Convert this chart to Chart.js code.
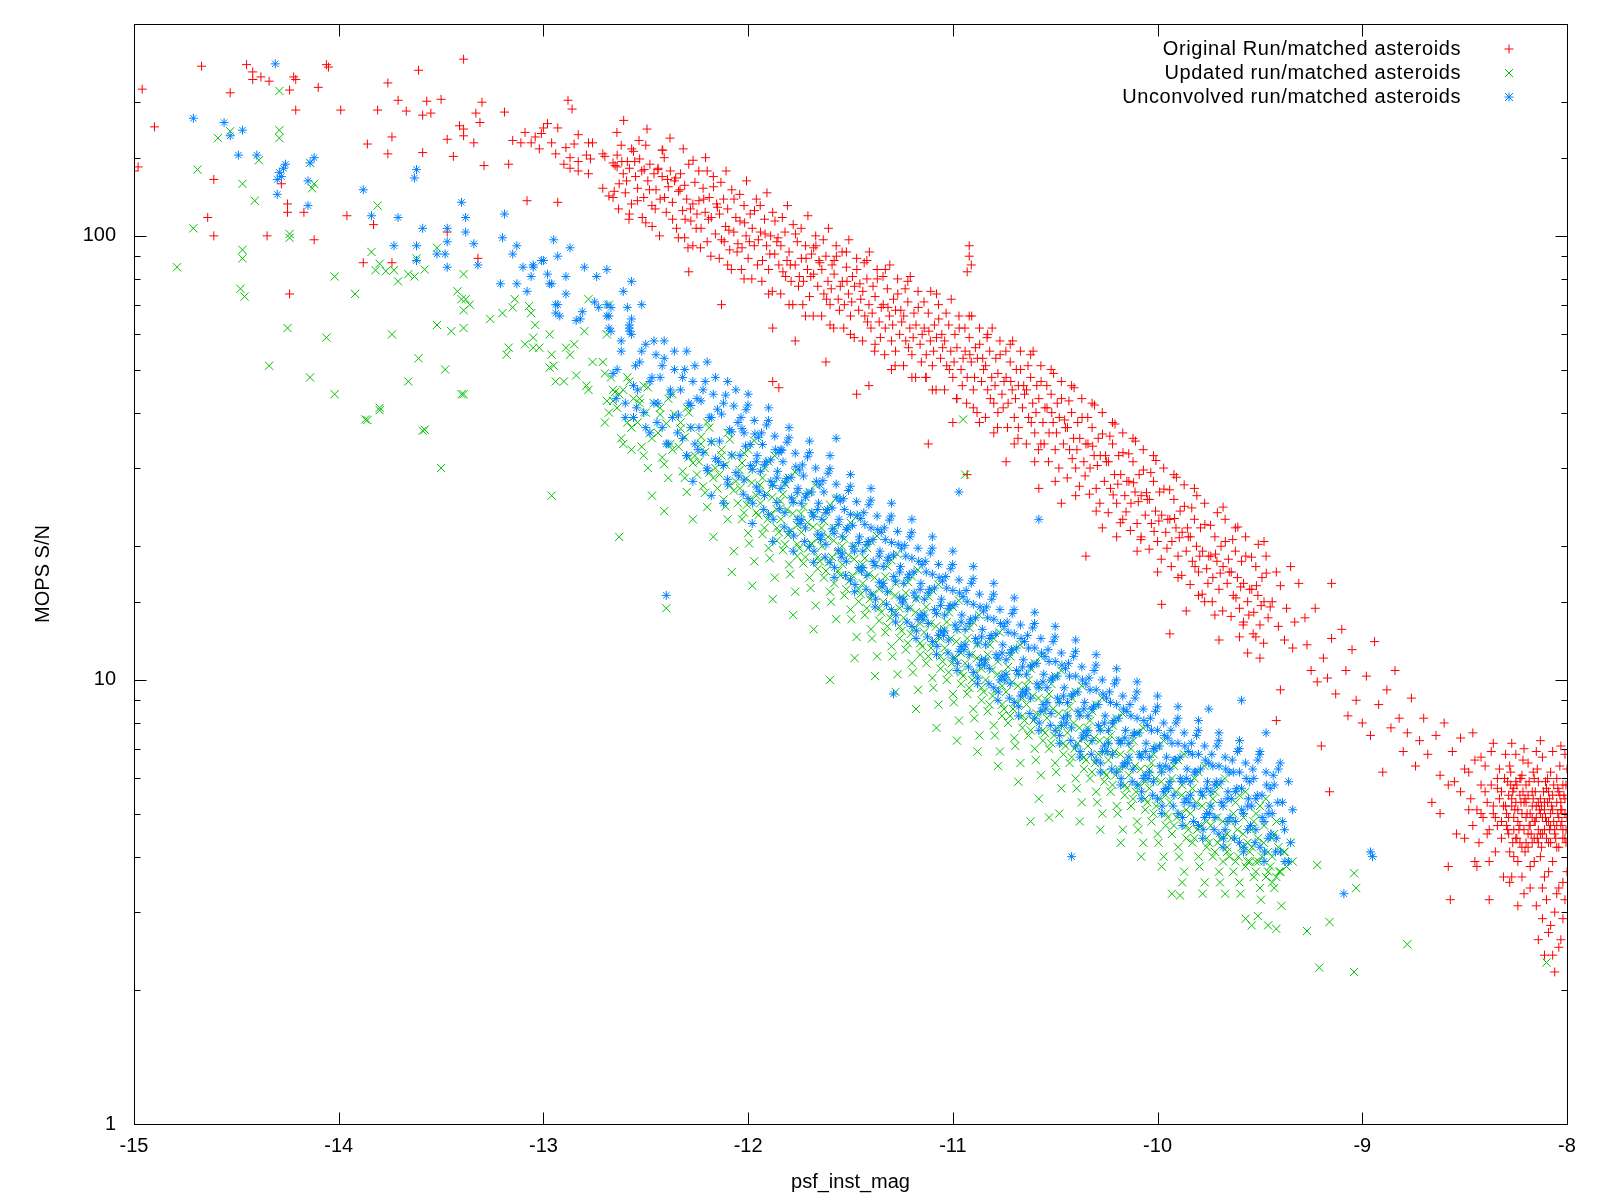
<!DOCTYPE html>
<html>
<head>
<meta charset="utf-8">
<title>MOPS S/N vs psf_inst_mag</title>
<script src="https://cdn.jsdelivr.net/npm/chart.js@4.4.1/dist/chart.umd.min.js"></script>
<style>
  html, body { margin: 0; padding: 0; background: #fff; }
  #plot { display: block; }
</style>
</head>
<body>
<canvas id="plot" width="1600" height="1200"></canvas>
<script>
// Series labels and colours (gnuplot default palette)
const seriesLabels = ["Original Run/matched asteroids", "Updated run/matched asteroids", "Unconvolved run/matched asteroids"];
const seriesColors = ["#ff0000", "#00c000", "#0080ff"];
const seriesStyles = ["cross", "crossRot", "star"];

// Axis tick values
const xTickValues = [-15, -14, -13, -12, -11, -10, -9, -8];
const yLabelValues = [1, 10, 100];

// [psf_inst_mag, MOPS S/N]
const originalRun = [
  [-15.0,140],[-14.98,143],[-14.96,214],[-14.9,176],[-14.67,241],[-14.45,243],[-14.42,234],[-14.42,225],[-14.38,228],[-14.34,223],
  [-14.22,228],[-14.21,225],[-14.24,213],[-14.53,210],[-14.61,134],[-14.64,110],[-14.61,100],[-14.28,131],[-14.25,118],[-14.25,113],
  [-14.17,113],[-14.35,100],[-14.12,98],[-14.24,74],[-14.21,192],[-14.1,216],[-14.06,243],[-14.05,240],[-13.99,192],[-13.96,111],
  [-13.83,106],[-13.88,87],[-13.74,87],[-13.86,161],[-13.81,192],[-13.76,221],[-13.76,153],[-13.74,167],[-13.71,202],[-13.67,191],
  [-13.61,236],[-13.59,187],[-13.55,189],[-13.57,201],[-13.5,203],[-13.59,154],[-13.47,165],[-13.44,151],[-13.47,102],[-13.39,250],
  [-13.41,177],[-13.39,174],[-13.39,168],[-13.34,162],[-13.33,189],[-13.31,180],[-13.3,200],[-13.29,144],[-13.32,89],[-13.19,190],
  [-13.17,145],[-13.15,164],[-13.11,162],[-13.09,171],[-13.08,120],[-13.06,162],[-13.04,167],[-13.02,157],[-13.01,170],[-13.0,175],
  [-12.98,179],[-12.96,162],[-12.94,153],[-12.93,175],[-12.93,119],[-12.89,158],[-12.88,202],[-12.86,193],[-12.87,150],[-12.9,145],
  [-12.87,142],[-12.85,161],[-12.83,169],[-12.83,147],[-12.83,140],[-12.79,152],[-12.78,162],[-12.76,162],[-12.77,149],[-12.78,138],
  [-12.71,153],[-12.7,151],[-12.71,128],[-12.68,123],[-12.66,122],[-12.66,146],[-12.65,144],[-12.64,143],
  [-12.64,152],[-12.63,131],[-12.62,160],[-12.61,138],[-12.6,125],[-12.59,147],[-12.58,142],[-12.57,118],[-12.56,155],[-12.55,136],[-12.58,112],
  [-12.54,128],[-12.53,149],[-12.52,140],[-12.51,122],[-12.5,160],[-12.49,133],[-12.48,145],[-12.47,117],[-12.46,138],[-12.45,127],[-12.5,107],
  [-12.44,142],[-12.43,121],[-12.42,136],[-12.41,150],[-12.4,113],[-12.39,129],[-12.38,140],[-12.37,119],[-12.36,133],[-12.35,104],[-12.42,156],
  [-12.34,126],[-12.33,138],[-12.32,114],[-12.31,130],[-12.3,121],[-12.29,145],[-12.28,108],[-12.27,118],[-12.26,132],[-12.25,112],[-12.29,83],[-12.27,95],[-12.31,99],
  [-12.24,120],[-12.23,104],[-12.22,128],[-12.21,113],[-12.2,97],[-12.19,122],[-12.18,110],[-12.17,136],[-12.16,101],[-12.15,116],[-12.13,70],[-12.2,140],
  [-12.14,112],[-12.13,98],[-12.12,121],[-12.11,105],[-12.1,115],[-12.09,93],[-12.08,127],[-12.07,102],[-12.06,110],[-12.05,96],[-12.1,86],
  [-12.04,108],[-12.03,94],[-12.02,117],[-12.01,100],[-12.0,89],[-11.99,112],[-11.98,104],[-11.97,95],[-11.96,121],[-11.95,98],[-12.02,80],
  [-11.94,102],[-11.93,88],[-11.92,109],[-11.91,95],[-11.9,84],[-11.89,100],[-11.88,113],[-11.87,91],[-11.86,97],[-11.85,86],[-11.9,74],[-11.88,62],[-11.88,47],[-11.85,45.5],
  [-11.84,95],[-11.83,83],[-11.82,102],[-11.81,88],[-11.8,92],[-11.79,79],[-11.78,106],[-11.77,86],[-11.76,97],[-11.75,81],[-11.8,70],[-11.77,58],
  [-11.74,89],[-11.73,79],[-11.72,95],[-11.71,84],[-11.7,73],[-11.69,91],[-11.68,82],[-11.67,100],[-11.66,77],[-11.65,87],[-11.72,66],[-11.68,94],
  [-11.64,84],[-11.63,74],[-11.62,90],[-11.61,79],[-11.6,70],[-11.59,86],[-11.58,82],[-11.57,95],[-11.56,72],[-11.55,77],[-11.6,63],[-11.62,52],[-11.58,88],
  [-11.54,79],[-11.53,70],[-11.52,85],[-11.51,74],[-11.5,66],[-11.49,81],[-11.48,77],[-11.47,89],[-11.46,68],[-11.45,72],[-11.47,44],[-11.5,60],[-11.52,92],
  [-11.44,75],[-11.43,66],[-11.42,80],[-11.41,70],[-11.4,62],[-11.39,77],[-11.38,73],[-11.37,84],[-11.36,64],[-11.35,69],[-11.41,46],[-11.42,88],[-11.38,57],
  [-11.34,70],[-11.33,62],[-11.32,76],[-11.31,66],[-11.3,58],[-11.29,72],[-11.28,68],[-11.27,80],[-11.26,60],[-11.25,64],[-11.3,50],[-11.33,84],[-11.28,55],
  [-11.24,66],[-11.23,58],[-11.22,71],[-11.21,62],[-11.2,54],[-11.19,67],[-11.18,63],[-11.17,75],[-11.16,57],[-11.15,60],[-11.12,34],[-11.2,48],[-11.22,79],
  [-11.14,62],[-11.13,54],[-11.12,67],[-11.11,58],[-11.1,51],[-11.09,63],[-11.08,59],[-11.07,70],[-11.06,53],[-11.05,56],[-11.1,45],[-11.08,74],[-11.13,48],
  [-11.04,58],[-11.03,51],[-11.02,63],[-11.01,55],[-11.0,48],[-10.99,60],[-10.98,56],[-10.97,66],[-10.96,50],[-10.95,53],[-11.0,38],[-10.93,29],
  [-10.92,95],[-10.92,90],[-10.91,86],[-10.93,83],[-10.98,43],
  [-10.94,55],[-10.93,48],[-10.92,59],[-10.91,52],[-10.9,45],[-10.89,56],[-10.88,53],[-10.87,62],[-10.86,47],[-10.85,50],[-10.9,41],[-10.87,38],[-10.92,66],
  [-10.84,51],[-10.83,45],[-10.82,55],[-10.81,48],[-10.8,42],[-10.79,53],[-10.78,49],[-10.77,58],[-10.76,44],[-10.75,47],[-10.8,36],[-10.83,60],[-10.78,40],
  [-10.74,48],[-10.73,42],[-10.72,52],[-10.71,45],[-10.7,39],[-10.69,50],[-10.68,46],[-10.67,55],[-10.66,41],[-10.65,44],[-10.7,34],[-10.72,57],[-10.68,37],[-10.74,31],
  [-10.64,45],[-10.63,39],[-10.62,48],[-10.61,42],[-10.6,36],[-10.59,46],[-10.58,43],[-10.57,51],[-10.56,38],[-10.55,41],[-10.6,31],[-10.62,54],[-10.58,27],[-10.57,34],
  [-10.54,41],[-10.53,36],[-10.52,44],[-10.51,38],[-10.5,33],[-10.49,42],[-10.48,39],[-10.47,47],[-10.46,34],[-10.45,37],[-10.5,28],[-10.52,50],[-10.47,25],
  [-10.44,37],[-10.43,33],[-10.42,40],[-10.41,35],[-10.4,30],[-10.39,38],[-10.38,35],[-10.37,43],[-10.36,31],[-10.35,34],[-10.35,19],[-10.4,26],[-10.42,46],
  [-10.34,34],[-10.33,30],[-10.32,37],[-10.31,32],[-10.3,27],[-10.29,35],[-10.28,32],[-10.27,40],[-10.26,28],[-10.25,31],[-10.3,24],[-10.32,42],[-10.27,22],
  [-10.24,31],[-10.23,27],[-10.22,34],[-10.21,29],[-10.2,25],[-10.19,32],[-10.18,29],[-10.17,36],[-10.16,26],[-10.15,28],[-10.2,21],[-10.22,38],[-10.17,23],
  [-10.14,28],[-10.13,25],[-10.12,31],[-10.11,26.5],[-10.1,22.5],[-10.09,29],[-10.08,26],[-10.07,33],[-10.06,23.5],[-10.05,25.5],[-10.1,19.5],[-10.12,35],[-10.08,21],
  [-10.04,25.5],[-10.03,22.5],[-10.02,28],[-10.01,24],[-10.0,20.5],[-9.99,26.5],[-9.98,23.5],[-9.97,30],[-9.96,21.5],[-9.95,23],[-10.0,17.5],[-9.94,12.7],[-9.98,14.8],[-10.02,32],
  [-9.94,23],[-9.93,20.5],[-9.92,25.5],[-9.91,22],[-9.9,19],[-9.89,24],[-9.88,21.5],[-9.87,27.5],[-9.86,19.5],[-9.85,21],[-9.86,14.3],[-9.9,17],[-9.92,29],
  [-9.84,21],[-9.83,18.5],[-9.82,23],[-9.81,20],[-9.8,17.5],[-9.79,22],[-9.78,19.5],[-9.77,25],[-9.76,17.8],[-9.75,19],[-9.8,15.5],[-9.82,27],[-9.77,15],
  [-9.74,19],[-9.73,17],[-9.72,21],[-9.71,18.5],[-9.7,16],[-9.69,20],[-9.68,18],[-9.67,23],[-9.66,16.5],[-9.65,17.5],[-9.7,12.3],[-9.72,14],[-9.68,24.5],
  [-9.64,17.5],[-9.63,15.5],[-9.62,19.5],[-9.61,17],[-9.6,14.5],[-9.59,18.5],[-9.58,16.5],[-9.57,21],[-9.56,15],[-9.55,16],[-9.6,12.5],[-9.62,22],[-9.58,13.5],[-9.56,11.5],
  [-9.54,16],[-9.53,14.2],[-9.52,18],[-9.51,15.5],[-9.5,13.3],[-9.49,17],[-9.48,15],[-9.47,19],[-9.46,13.8],[-9.45,14.6],[-9.5,11.2],[-9.48,20.5],[-9.52,12.5],
  [-9.44,15],[-9.42,17.5],[-9.41,13.2],[-9.4,16.3],[-9.38,12.3],[-9.37,14.5],[-9.35,18],[-9.34,11.8],[-9.33,13.5],[-9.31,16.5],[-9.4,9.5],[-9.42,8.1],
  [-9.28,13.8],[-9.27,12],[-9.25,10.5],[-9.23,14.5],[-9.22,9.9],[-9.2,7.1],[-9.19,11.2],[-9.17,10.1],[-9.16,5.6],[-9.15,12.4],[-9.15,16.5],
  [-9.13,9.3],[-9.1,13],[-9.08,10.5],[-9.07,8.3],[-9.05,11.7],[-9.03,9],[-9.0,8],[-8.98,10.2],[-8.96,7.5],[-8.94,12.2],[-8.92,8.8],
  [-8.9,6.2],[-8.88,9.5],[-8.86,7.8],[-8.84,10.5],[-8.82,8.2],[-8.8,6.9],[-8.78,7.6],[-8.76,9.1],[-8.74,6.4],[-8.72,7.3],[-8.7,8.2],
  [-8.68,6.8],[-8.66,5.3],[-8.64,7.5],[-8.62,6.1],[-8.6,8.0],[-8.58,5.8],[-8.56,6.9],[-8.54,4.5],[-8.52,7.4],[-8.5,6.3],[-8.48,5.1],
  [-8.46,7.6],[-8.44,3.8],[-8.42,6.7],[-8.4,5.6],[-8.38,3.2],[-8.36,7.2],[-8.34,6.0],[-8.32,4.8],[-8.58,3.8],[-8.57,3.2],
  [-8.33,5.4],[-8.35,4.9],[-8.31,3.6],[-8.37,5.8],
  [-8.3,5.2],[-8.29,4.6],[-8.29,5.9],[-8.28,4.1],[-8.28,6.4],[-8.27,5.4],[-8.27,3.6],[-8.26,4.9],[-8.26,5.7],[-8.25,4.4],[-8.25,6.8],
  [-8.24,5.1],[-8.24,3.9],[-8.23,5.5],[-8.23,4.7],[-8.22,6.1],[-8.22,4.2],[-8.21,5.3],[-8.21,3.3],[-8.2,4.9],[-8.2,5.8],[-8.19,4.5],
  [-8.19,6.5],[-8.18,5.0],[-8.18,3.8],[-8.17,5.6],[-8.17,4.3],[-8.16,6.0],[-8.16,4.8],[-8.15,5.2],[-8.15,3.1],[-8.14,4.6],[-8.14,5.9],
  [-8.13,4.0],[-8.13,5.4],[-8.12,6.7],[-8.12,4.9],[-8.11,3.6],[-8.11,5.1],[-8.1,4.4],[-8.1,5.7],[-8.09,2.7],[-8.09,4.8],[-8.08,6.2],
  [-8.08,5.0],[-8.07,3.9],[-8.07,5.5],[-8.06,4.5],[-8.06,2.2],[-8.05,5.3],[-8.05,6.0],[-8.04,4.2],[-8.04,3.4],[-8.03,5.1],[-8.03,4.7],
  [-8.02,5.8],[-8.02,2.9],[-8.01,4.4],[-8.01,5.4],[-8.0,4.9],[-8.0,3.7],[-8.0,6.3],[-8.26,4.0],[-8.23,6.0],[-8.2,4.3],[-8.17,4.9],
  [-8.14,5.3],[-8.11,4.6],[-8.08,4.3],[-8.05,4.7],[-8.02,4.4],[-8.15,6.9],[-8.1,3.2],[-8.06,3.0],[-8.03,2.6],[-8.12,2.9],[-8.18,3.4],
  [-8.07,2.4],[-8.01,3.2],[-8.25,5.9],[-8.19,5.5],[-8.13,4.5],[-8.09,5.6],[-8.04,5.6],[-8.01,6.8],
  [-12.654,126],[-12.641,171],[-12.633,115],[-12.617,147],[-12.608,182],[-12.594,133],[-12.582,109],[-12.569,157],
  [-12.554,147],[-12.541,120],[-12.533,164],[-12.517,110],[-12.508,141],[-12.494,174],[-12.482,127],[-12.469,105],
  [-12.454,115],[-12.441,141],[-12.433,100],[-12.417,156],[-12.408,122],[-12.394,134],[-12.382,166],[-12.369,109],
  [-12.354,135],[-12.341,99],[-12.333,127],[-12.317,157],[-12.308,109],[-12.294,94],[-12.282,115],[-12.269,148],
  [-12.254,104],[-12.241,140],[-12.233,94],[-12.217,121],[-12.208,150],[-12.194,109],[-12.182,90],[-12.169,129],
  [-12.154,118],[-12.141,89],[-12.133,132],[-12.117,97],[-12.108,140],[-12.094,103],[-12.082,84],[-12.069,121],
  [-12.054,92],[-12.041,124],[-12.033,84],[-12.017,107],[-12.008,133],[-11.994,97],[-11.982,80],[-11.969,114],
  [-11.954,86],[-11.941,117],[-11.933,79],[-11.917,101],[-11.908,125],[-11.894,91],[-11.882,75],[-11.869,108],
  [-11.854,99],[-11.841,74],[-11.833,110],[-11.817,81],[-11.808,117],[-11.794,86],[-11.782,70],[-11.769,101],
  [-11.754,77],[-11.741,104],[-11.733,70],[-11.717,89],[-11.708,111],[-11.694,81],[-11.682,66],[-11.669,95],
  [-11.654,88],[-11.641,66],[-11.633,98],[-11.617,72],[-11.608,104],[-11.594,76],[-11.582,62],[-11.569,90],
  [-11.554,68],[-11.541,92],[-11.533,62],[-11.517,79],[-11.508,98],[-11.494,71],[-11.482,59],[-11.469,84],
  [-11.454,78],[-11.441,58],[-11.433,87],[-11.417,64],[-11.408,92],[-11.394,67],[-11.382,55],[-11.369,80],
  [-11.354,59],[-11.341,81],[-11.333,54],[-11.317,69],[-11.308,86],[-11.294,63],[-11.282,51],[-11.269,74],
  [-11.254,68],[-11.241,51],[-11.233,76],[-11.217,56],[-11.208,81],[-11.194,59],[-11.182,48],[-11.169,69],
  [-11.154,52],[-11.141,71],[-11.133,48],[-11.117,61],[-11.108,75],[-11.094,55],[-11.082,45],[-11.069,65],
  [-11.054,60],[-11.041,45],[-11.033,67],[-11.017,50],[-11.008,72],[-10.994,52],[-10.982,43],[-10.969,62],
  [-10.954,46],[-10.941,62],[-10.933,42],[-10.917,54],[-10.908,66],[-10.894,48],[-10.882,40],[-10.869,57],
  [-10.854,53],[-10.841,39],[-10.833,59],[-10.817,43],[-10.808,62],[-10.794,46],[-10.782,37],[-10.769,54],
  [-10.754,41],[-10.741,55],[-10.733,37],[-10.717,47],[-10.708,58],[-10.694,43],[-10.682,35],[-10.669,50],
  [-10.654,46],[-10.641,34],[-10.633,51],[-10.617,38],[-10.608,55],[-10.594,40],[-10.582,33],[-10.569,47],
  [-10.554,34],[-10.541,46],[-10.533,31],[-10.517,40],[-10.508,49],[-10.494,36],[-10.482,30],[-10.469,43],
  [-10.454,38.5],[-10.441,28.5],[-10.433,42.5],[-10.417,31.5],[-10.408,45.5],[-10.394,33],[-10.382,27.3],[-10.369,39],
  [-10.354,28.8],[-10.341,39],[-10.333,26.2],[-10.317,33.6],[-10.308,41.6],[-10.294,30.4],[-10.282,25],[-10.269,35.8],
  [-10.254,32],[-10.241,23.8],[-10.233,35.4],[-10.217,26.1],[-10.208,37.7],[-10.194,27.6],[-10.182,22.6],[-10.169,32.5],
  [-10.154,23.9],[-10.141,32.3],[-10.133,21.7],[-10.117,27.8],[-10.108,34.5],[-10.094,25.2],[-10.082,20.7],[-10.069,29.7],
  [-10.054,26.4],[-10.041,19.7],[-10.033,29.3],[-10.017,21.6],[-10.008,31.2],[-9.994,22.8],[-9.982,18.7],[-9.969,26.9],
  [-9.954,19.8],[-9.941,26.8],[-9.933,18],[-9.917,23.1],[-9.908,28.6],[-9.894,20.9],[-9.882,17.2],[-9.869,24.6],
  [-9.854,22],[-9.841,16.4],[-9.833,24.4],[-9.817,18],[-9.808,26],[-9.794,19],[-9.782,15.6],[-9.769,22.4],
  [-9.754,16.5],[-9.741,22.3],[-9.733,15],[-9.717,19.2],[-9.708,23.8],[-9.694,17.4],[-9.682,14.3],[-9.669,20.5],
  [-9.654,18.7],[-9.641,13.9],[-9.633,20.7],[-9.617,15.3],[-9.608,22.1],[-9.594,16.2],[-9.582,13.3],[-9.569,19],
  [-9.554,14],[-9.541,18.9],[-9.533,12.7],[-9.517,16.3],[-9.508,20.2],[-9.494,14.7],[-9.482,12.1],[-9.469,17.4],
  [-8.48,6.2],[-8.47,5.4],[-8.46,4.7],[-8.45,6.6],[-8.44,5.1],[-8.43,4.3],[-8.42,5.8],[-8.41,4.9],[-8.4,6.4],[-8.39,5.3],
  [-8.38,4.6],[-8.37,6.9],[-8.36,5.0],[-8.35,4.1],[-8.34,5.7],[-8.33,6.3],[-8.32,4.4],[-8.31,5.2],[-8.305,6.0],[-8.295,4.7],
  [-8.285,5.5],[-8.275,6.2],[-8.265,4.3],[-8.255,5.1],[-8.245,5.8],[-8.235,4.6],[-8.225,5.3],[-8.215,6.6],[-8.205,4.1],[-8.195,5.0],
  [-8.185,5.9],[-8.175,4.5],[-8.165,5.4],[-8.155,4.8],[-8.145,6.3],[-8.135,5.1],[-8.125,4.2],[-8.115,5.6],[-8.105,4.9],[-8.095,6.0],
  [-8.085,4.6],[-8.075,5.2],[-8.065,5.8],[-8.055,4.4],[-8.045,5.0],[-8.035,6.4],[-8.025,4.8],[-8.015,5.5],[-8.005,4.3],[-8.285,4.9],
  [-8.265,5.6],[-8.245,4.4],[-8.225,6.0],[-8.205,5.4],[-8.185,4.7],[-8.165,6.2],[-8.145,4.4],[-8.125,5.2],[-8.105,5.9],[-8.085,5.4],
  [-8.065,4.8],[-8.045,5.7],[-8.025,5.1],[-8.005,5.8],[-8.28,3.5],[-8.22,3.6],[-8.16,3.9],[-8.12,3.4],[-8.09,3.7],[-8.05,3.3],
  [-8.02,3.5],[-8.14,2.6],[-8.08,2.8],[-8.04,2.5],[-8.11,2.4],[-8.24,3.1],[-8.3,6.8],[-8.27,7.2],[-8.21,7.0],[-8.13,7.3],
  [-8.07,6.9],[-8.03,7.1],[-8.52,5.6],[-8.5,4.4],[-8.55,5.9],[-8.62,5.0],[-8.45,3.9],[-8.38,3.9],
  [-8.295,5.0],[-8.285,4.5],[-8.27,5.2],[-8.26,4.6],[-8.25,5.3],[-8.24,4.8],[-8.23,4.3],[-8.22,5.0],[-8.21,4.6],[-8.2,5.3],
  [-8.19,4.2],[-8.18,4.7],[-8.17,5.2],[-8.16,4.4],[-8.15,4.9],[-8.14,4.3],[-8.13,5.0],[-8.12,4.5],[-8.11,5.3],[-8.1,4.8],
  [-8.09,4.3],[-8.08,4.7],[-8.07,5.1],[-8.06,4.6],[-8.05,4.2],[-8.04,4.9],[-8.03,5.3],[-8.02,4.6],[-8.01,5.0],[-8.005,4.6],
  [-8.32,5.6],[-8.34,4.7],[-8.36,5.2],[-8.39,4.5],[-8.42,5.0],[-8.275,5.8],[-8.215,5.6],[-8.155,5.6],[-8.095,5.3],[-8.035,5.5]
];

const updatedRun = [
  [-14.29,212],[-14.29,173],[-14.29,166],[-14.53,172],[-14.59,166],[-14.39,148],[-14.69,141],[-14.47,131],[-14.41,120],[-14.71,104],
  [-14.79,85],[-14.47,93],[-14.47,89],[-14.48,76],[-14.46,73],[-14.24,101],[-14.24,99],[-14.25,62],[-14.34,51],[-14.14,146],
  [-14.12,131],[-14.13,128],[-14.14,48],[-14.06,59],[-14.02,44],[-14.02,81],[-13.92,74],[-13.81,117],[-13.84,92],[-13.8,86.5],
  [-13.82,83.7],[-13.77,83.3],[-13.73,83.7],[-13.71,79],[-13.74,60],[-13.86,38.5],[-13.8,40.5],[-13.66,47],[-13.61,53],[-13.58,36.6],
  [-13.62,89],[-13.66,82],[-13.63,81],[-13.58,84],[-13.52,94],[-13.52,63],[-13.45,61],[-13.48,50],[-13.39,44],[-13.42,75],
  [-13.4,72],[-13.38,72],[-13.39,68],[-13.36,70],[-13.39,82],[-13.39,62],[-13.26,65],[-13.2,67],[-13.14,72],[-13.15,69],
  [-13.07,69.5],[-13.06,67],[-13.04,63],[-12.97,60],[-13.05,59],[-13.05,56],[-13.17,56],[-13.18,54],[-13.09,57],[-13.02,56],
  [-12.96,54],[-12.97,50.5],[-12.95,51],[-12.94,47],[-12.9,47],[-12.89,56],[-12.85,57],[-12.87,54],[-12.84,48.5],[-12.8,61],
  [-12.78,72],[-12.79,46],[-12.78,45],[-12.76,52],[-12.71,52],[-12.69,60],[-12.68,70],[-12.7,49],[-12.67,48],[-12.66,45],
  [-12.65,44.5],[-12.68,40],[-12.69,42.5],[-12.66,42.5],[-12.7,38],[-12.96,26],[-13.5,30],[-13.59,36.4],[-13.4,44],[-13.87,38.6],[-13.8,41],
  [-12.64,41],[-12.62,35],[-12.61,45],[-12.59,38],[-12.57,33],[-12.56,43],[-12.63,21],[-12.58,47],
  [-12.54,38],[-12.53,43],[-12.52,33.5],[-12.5,40],[-12.49,30],[-12.48,36],[-12.46,42],[-12.47,26],[-12.51,46],
  [-12.44,36],[-12.43,41],[-12.42,31.7],[-12.4,37.8],[-12.39,28.5],[-12.38,34],[-12.36,39.7],[-12.4,14.5],[-12.41,24],[-12.37,44],
  [-12.34,33.5],[-12.33,38],[-12.32,29.5],[-12.31,35.2],[-12.3,26.5],[-12.29,31.7],[-12.28,37],[-12.27,23],[-12.26,32],[-12.25,29],[-12.3,41],
  [-12.24,31],[-12.23,35.3],[-12.22,27.3],[-12.21,32.6],[-12.2,24.5],[-12.19,29.3],[-12.18,34.3],[-12.17,21],[-12.16,30],[-12.15,27],[-12.2,38],
  [-12.14,29],[-12.13,33],[-12.12,25.5],[-12.11,30.5],[-12.1,23],[-12.09,27.4],[-12.08,32],[-12.07,19.5],[-12.06,28],[-12.05,25],[-12.1,36],[-12.08,17.5],
  [-12.04,27],[-12.03,30.8],[-12.02,23.8],[-12.01,28.4],[-12.0,21.4],[-11.99,25.5],[-11.98,29.8],[-11.97,18.5],[-11.96,26],[-11.95,23.5],[-12.0,33],[-11.98,16.3],
  [-11.94,25],[-11.93,28.5],[-11.92,22],[-11.91,26.3],[-11.9,19.8],[-11.89,23.6],[-11.88,27.6],[-11.87,17],[-11.86,24.2],[-11.85,21.5],[-11.9,31],[-11.88,15.2],[-11.86,20.6],
  [-11.84,23],[-11.83,26.2],[-11.82,20.2],[-11.81,24.2],[-11.8,18.2],[-11.79,21.7],[-11.78,25.4],[-11.77,15.8],[-11.76,22.3],[-11.75,19.8],[-11.8,28.5],[-11.78,14],[-11.76,19],
  [-11.74,21.5],[-11.73,24.5],[-11.72,18.9],[-11.71,22.6],[-11.7,17],[-11.69,20.3],[-11.68,23.7],[-11.67,14.7],[-11.66,20.8],[-11.65,18.5],[-11.7,26.5],[-11.68,13],[-11.66,17.8],
  [-11.64,20],[-11.63,22.8],[-11.62,17.6],[-11.61,21],[-11.6,15.8],[-11.59,18.9],[-11.58,22],[-11.57,13.7],[-11.56,19.4],[-11.55,17.2],[-11.6,24.8],[-11.6,10],[-11.58,16.5],
  [-11.54,18.2],[-11.53,20.8],[-11.52,16],[-11.51,19.1],[-11.5,14.4],[-11.49,17.2],[-11.48,20],[-11.47,12.5],[-11.46,17.6],[-11.45,15.6],[-11.5,22.6],[-11.48,11.2],[-11.46,15],
  [-11.44,16.5],[-11.43,18.8],[-11.42,14.5],[-11.41,17.3],[-11.4,13],[-11.39,15.6],[-11.38,18.2],[-11.37,11.3],[-11.36,16],[-11.35,14.2],[-11.4,20.5],[-11.38,10.2],[-11.36,13.6],
  [-11.34,15],[-11.33,17.1],[-11.32,13.2],[-11.31,15.8],[-11.3,11.9],[-11.29,14.2],[-11.28,16.5],[-11.27,10.3],[-11.26,14.5],[-11.25,12.9],[-11.3,18.6],[-11.28,9.4],[-11.26,12.4],
  [-11.24,13.8],[-11.23,15.7],[-11.22,12.1],[-11.21,14.5],[-11.2,10.9],[-11.19,13.1],[-11.18,15.2],[-11.17,9.5],[-11.16,13.4],[-11.15,11.9],[-11.2,17.1],[-11.18,8.6],[-11.16,11.4],
  [-11.14,12.8],[-11.13,14.6],[-11.12,11.3],[-11.11,13.4],[-11.1,10.1],[-11.09,12.2],[-11.08,14.1],[-11.07,8.8],[-11.06,12.4],[-11.05,11],[-11.1,15.9],[-11.08,7.8],[-11.06,10.6],
  [-11.04,11.8],[-11.03,13.5],[-11.02,10.4],[-11.01,12.4],[-11.0,9.3],[-10.99,11.2],[-10.98,13],[-10.97,8.1],[-10.96,11.5],[-10.95,10.2],[-11.0,14.6],[-10.98,7.3],[-10.96,9.8],
  [-10.94,29],[-10.95,38.6],
  [-10.94,10.9],[-10.93,12.4],[-10.92,9.6],[-10.91,11.4],[-10.9,8.6],[-10.89,10.4],[-10.88,12],[-10.87,7.5],[-10.86,10.6],[-10.85,9.4],[-10.9,13.5],[-10.88,6.9],[-10.86,9],
  [-10.84,10],[-10.83,11.4],[-10.82,8.8],[-10.81,10.5],[-10.8,7.9],[-10.79,9.5],[-10.78,11],[-10.77,6.9],[-10.76,9.7],[-10.75,8.6],[-10.8,12.4],[-10.78,6.4],[-10.76,8.3],
  [-10.74,9.4],[-10.73,10.7],[-10.72,8.3],[-10.71,9.9],[-10.7,7.4],[-10.69,8.9],[-10.68,10.4],[-10.67,6.5],[-10.66,9.1],[-10.65,8.1],[-10.7,11.7],[-10.68,5.9],[-10.66,7.8],
  [-10.64,8.8],[-10.63,10],[-10.62,7.7],[-10.61,9.2],[-10.6,7],[-10.59,8.4],[-10.58,9.7],[-10.57,6.1],[-10.56,8.5],[-10.55,7.6],[-10.6,10.9],[-10.58,5.4],[-10.56,7.3],[-10.62,4.8],
  [-10.54,8.2],[-10.53,9.3],[-10.52,7.2],[-10.51,8.6],[-10.5,6.5],[-10.49,7.8],[-10.48,9],[-10.47,5.7],[-10.46,7.9],[-10.45,7.1],[-10.5,10.2],[-10.48,5],[-10.46,6.8],[-10.53,4.9],
  [-10.44,7.6],[-10.43,8.7],[-10.42,6.7],[-10.41,8],[-10.4,6],[-10.39,7.2],[-10.38,8.4],[-10.37,5.3],[-10.36,7.4],[-10.35,6.6],[-10.4,9.4],[-10.38,4.8],[-10.36,6.3],
  [-10.34,7.1],[-10.33,8.1],[-10.32,6.2],[-10.31,7.4],[-10.3,5.6],[-10.29,6.8],[-10.28,7.8],[-10.27,5],[-10.26,6.9],[-10.25,6.1],[-10.3,8.8],[-10.28,4.6],[-10.26,5.9],
  [-10.24,6.6],[-10.23,7.5],[-10.22,5.8],[-10.21,6.9],[-10.2,5.2],[-10.19,6.3],[-10.18,7.3],[-10.17,4.6],[-10.16,6.4],[-10.15,5.7],[-10.2,8.2],[-10.18,4.3],[-10.16,5.5],
  [-10.14,6.1],[-10.13,7],[-10.12,5.4],[-10.11,6.4],[-10.1,4.8],[-10.09,5.8],[-10.08,6.8],[-10.07,4.3],[-10.06,5.9],[-10.05,5.3],[-10.1,7.6],[-10.08,4],[-10.06,5.1],
  [-10.04,5.7],[-10.03,6.5],[-10.02,5],[-10.01,6],[-10.0,4.5],[-9.99,5.4],[-9.98,6.3],[-9.97,4],[-9.96,5.5],[-9.95,4.9],[-10.0,7.1],[-9.98,3.8],[-9.96,4.7],
  [-9.94,5.3],[-9.93,6],[-9.92,4.7],[-9.91,5.6],[-9.9,4.2],[-9.89,5],[-9.88,5.8],[-9.87,3.7],[-9.86,5.1],[-9.85,4.6],[-9.9,6.6],[-9.88,3.5],[-9.86,4.4],[-9.93,3.3],
  [-9.84,5],[-9.83,5.7],[-9.82,4.4],[-9.81,5.3],[-9.8,4],[-9.79,4.7],[-9.78,5.5],[-9.77,3.5],[-9.76,4.8],[-9.75,4.3],[-9.8,6.2],[-9.78,3.3],[-9.76,4.2],
  [-9.74,4.7],[-9.73,5.4],[-9.72,4.1],[-9.71,4.9],[-9.7,3.7],[-9.69,4.4],[-9.68,5.2],[-9.67,3.3],[-9.66,4.5],[-9.65,4],[-9.7,5.8],[-9.68,3.9],[-9.66,4.2],
  [-9.64,4.4],[-9.63,5],[-9.62,3.9],[-9.61,4.6],[-9.6,3.5],[-9.59,4.2],[-9.58,4.9],[-9.57,3.8],[-9.56,4.3],[-9.55,3.9],[-9.6,5.5],[-9.57,2.9],[-9.55,4.1],
  [-9.54,4.2],[-9.53,4.8],[-9.52,3.7],[-9.51,4.4],[-9.5,3.4],[-9.49,4],[-9.48,4.7],[-9.47,3.6],[-9.46,4.1],[-9.45,3.8],[-9.5,5.2],[-9.54,2.8],[-9.52,3.9],
  [-9.44,4],[-9.43,4.5],[-9.42,3.6],[-9.41,4.2],[-9.4,3.7],[-9.38,4.1],[-9.37,3.8],[-9.35,4.3],[-9.34,3.9],[-9.46,2.8],[-9.44,3.5],
  [-9.51,2.94],[-9.42,2.75],[-9.89,3.27],[-9.27,2.72],[-9.22,3.83],[-9.21,2.25],[-9.16,2.85],[-9.04,3.67],[-9.03,3.4],[-9.04,2.2],[-8.78,2.54],[-8.1,2.31],
  [-12.63,44],[-12.61,34],[-12.59,48],[-12.57,37],[-12.53,42],[-12.51,32],[-12.49,45.6],[-12.47,35],
  [-12.43,39.6],[-12.41,30.6],[-12.39,43],[-12.37,33],[-12.33,36.8],[-12.31,28.5],[-12.29,40],[-12.27,30.8],
  [-12.23,34],[-12.21,26.4],[-12.19,37],[-12.17,28.5],[-12.13,32],[-12.11,24.6],[-12.09,34.8],[-12.07,26.7],
  [-12.042,29.7],[-12.03,23],[-12.019,32.4],[-12.006,24.8],[-11.995,20.3],[-11.982,27.8],[-11.971,34.6],[-11.96,23.8],
  [-11.942,27.5],[-11.93,21.3],[-11.919,30],[-11.906,23],[-11.895,18.8],[-11.882,25.8],[-11.871,32],[-11.86,22],
  [-11.842,25.3],[-11.83,19.6],[-11.819,27.6],[-11.806,21.2],[-11.795,17.3],[-11.782,23.7],[-11.771,29.4],[-11.76,20.2],
  [-11.742,23.7],[-11.73,18.3],[-11.719,25.8],[-11.706,19.8],[-11.695,16.1],[-11.682,22.1],[-11.671,27.5],[-11.66,18.9],
  [-11.642,22],[-11.63,17],[-11.619,24],[-11.606,18.4],[-11.595,15],[-11.582,20.6],[-11.571,25.6],[-11.56,17.6],
  [-11.542,20],[-11.53,15.5],[-11.519,21.8],[-11.506,16.7],[-11.495,13.7],[-11.482,18.7],[-11.471,23.3],[-11.46,16],
  [-11.442,18.2],[-11.43,14],[-11.419,19.8],[-11.406,15.2],[-11.395,12.4],[-11.382,17],[-11.371,21.1],[-11.36,14.5],
  [-11.342,16.5],[-11.33,12.8],[-11.319,18],[-11.306,13.8],[-11.295,11.3],[-11.282,15.5],[-11.271,19.2],[-11.26,13.2],
  [-11.242,15.2],[-11.23,11.7],[-11.219,16.6],[-11.206,12.7],[-11.195,10.4],[-11.182,14.2],[-11.171,17.7],[-11.16,12.1],
  [-11.142,14.1],[-11.13,10.9],[-11.119,15.4],[-11.106,11.8],[-11.095,9.6],[-11.082,13.2],[-11.071,16.4],[-11.06,11.3],
  [-11.042,13],[-11.03,10],[-11.019,14.2],[-11.006,10.9],[-10.995,8.9],[-10.982,12.2],[-10.971,15.1],[-10.96,10.4],
  [-10.942,12],[-10.93,9.3],[-10.919,13.1],[-10.906,10],[-10.895,8.2],[-10.882,11.2],[-10.871,14],[-10.86,9.6],
  [-10.842,11],[-10.83,8.5],[-10.819,12],[-10.806,9.2],[-10.795,7.5],[-10.782,10.3],[-10.771,12.8],[-10.76,8.8],
  [-10.742,10.3],[-10.73,8],[-10.719,11.3],[-10.706,8.6],[-10.695,7.1],[-10.682,9.7],[-10.671,12],[-10.66,8.3],
  [-10.642,9.7],[-10.63,7.5],[-10.619,10.6],[-10.606,8.1],[-10.595,6.6],[-10.582,9.1],[-10.571,11.3],[-10.56,7.7],
  [-10.542,9],[-10.53,7],[-10.519,9.8],[-10.506,7.5],[-10.495,6.2],[-10.482,8.4],[-10.471,10.5],[-10.46,7.2],
  [-10.442,8.4],[-10.43,6.5],[-10.419,9.1],[-10.406,7],[-10.395,5.7],[-10.382,7.8],[-10.371,9.7],[-10.36,6.7],
  [-10.342,7.8],[-10.33,6],[-10.319,8.5],[-10.306,6.5],[-10.295,5.3],[-10.282,7.3],[-10.271,9.1],[-10.26,6.2],
  [-10.242,7.3],[-10.23,5.6],[-10.219,7.9],[-10.206,6.1],[-10.195,5],[-10.182,6.8],[-10.171,8.4],[-10.16,5.8],
  [-10.142,6.7],[-10.13,5.2],[-10.119,7.3],[-10.106,5.6],[-10.095,4.6],[-10.082,6.3],[-10.071,7.8],[-10.06,5.4],
  [-10.042,6.3],[-10.03,4.8],[-10.019,6.8],[-10.006,5.2],[-9.995,4.3],[-9.982,5.9],[-9.971,7.3],[-9.96,5],
  [-9.942,5.8],[-9.93,4.5],[-9.919,6.4],[-9.906,4.9],[-9.895,4],[-9.882,5.5],[-9.871,6.8],[-9.86,4.7],
  [-9.842,5.5],[-9.83,4.3],[-9.819,6],[-9.806,4.6],[-9.795,3.8],[-9.782,5.2],[-9.771,6.4],[-9.76,4.4],
  [-9.742,5.2],[-9.73,4],[-9.719,5.6],[-9.706,4.3],[-9.695,3.5],[-9.682,4.8],[-9.671,6],[-9.66,4.1],
  [-9.642,4.8],[-9.63,3.7],[-9.619,5.3],[-9.606,4],[-9.595,3.3],[-9.582,4.5],[-9.571,5.6],[-9.56,3.9],
  [-9.542,4.6],[-9.53,3.6],[-9.519,5],[-9.506,3.9],[-9.495,3.2],[-9.482,4.3],[-9.471,5.4],[-9.46,3.7],
  [-9.442,4.4],[-9.43,3.4],[-9.419,4.8],[-9.406,3.7],[-9.395,3.1],[-9.382,4.1]
];

const unconvolvedRun = [
  [-14.31,244],[-14.71,184],[-14.56,180],[-14.47,173],[-14.53,168],[-14.49,152],[-14.4,152],[-14.29,139],[-14.26,145],[-14.27,142],
  [-14.28,136],[-14.3,134],[-14.3,124],[-14.14,146],[-14.12,150],[-14.15,133],[-14.15,117],[-13.88,127],[-13.84,111],[-13.71,110],
  [-13.62,141],[-13.63,135],[-13.59,104],[-13.47,104],[-13.4,119],[-13.38,110],[-13.38,102],[-13.19,112],[-13.73,95],[-13.62,95],
  [-13.52,91],[-13.48,91],[-13.47,97],[-13.47,85],[-13.62,88],[-13.34,96],[-13.32,86],[-13.2,99],[-13.13,95],[-13.15,91],
  [-13.1,85],[-13.05,86],[-13.05,85],[-13.01,88],[-13.0,88],[-12.95,98],[-12.93,90],[-12.87,94],[-13.06,81],[-12.98,82],
  [-12.97,78],[-12.96,78],[-13.21,78],[-13.13,78],[-13.08,75],[-12.89,81],[-12.89,74],[-12.8,85],[-12.69,84],[-12.74,81],
  [-12.94,70],[-12.93,70],[-12.94,67],[-12.92,66],[-12.81,67.5],[-12.82,65],[-12.84,64.5],[-12.75,71],[-12.73,69],[-12.69,70],
  [-12.67,69],[-12.69,66],[-12.68,66],[-12.59,69],[-12.57,65],[-12.61,75],[-12.57,79],[-12.68,62],[-12.67,61],[-12.58,63],[-12.57,60],[-12.66,49],
  [-12.64,50],[-12.62,55],[-12.6,42],[-12.58,61],[-12.56,39],[-12.55,51],
  [-12.54,45],[-12.53,52],[-12.51,40],[-12.5,57],[-12.48,36],[-12.47,48],[-12.46,42],[-12.45,54],[-12.52,70],
  [-12.44,42],[-12.43,48],[-12.42,37],[-12.41,53],[-12.39,34],[-12.38,45],[-12.37,39],[-12.36,50],[-12.4,15.5],[-12.41,58],
  [-12.34,39.5],[-12.33,45],[-12.32,35],[-12.31,50],[-12.3,32],[-12.29,42],[-12.28,37],[-12.27,47],[-12.26,34],[-12.25,43],[-12.3,55],[-12.27,28],
  [-12.24,37],[-12.23,42.5],[-12.22,32.5],[-12.21,47],[-12.2,29.6],[-12.19,39],[-12.18,34.4],[-12.17,44],[-12.16,31.5],[-12.15,40.7],[-12.2,52],[-12.18,26],
  [-12.14,34.5],[-12.13,39.7],[-12.12,30.4],[-12.11,43.8],[-12.1,27.6],[-12.09,36.6],[-12.08,32.1],[-12.07,41.4],[-12.06,29.3],[-12.05,38],[-12.1,47],[-12.12,25],
  [-12.04,32],[-12.03,36.8],[-12.02,28.2],[-12.01,40.6],[-12.0,25.6],[-11.99,33.9],[-11.98,29.8],[-11.97,38.4],[-11.96,27.2],[-11.95,35.2],[-12.0,44],[-11.98,22.5],[-12.02,36],[-11.96,31],
  [-11.94,29.5],[-11.93,33.9],[-11.92,26],[-11.91,37.5],[-11.9,23.6],[-11.89,31.3],[-11.88,27.4],[-11.87,35.4],[-11.86,25.1],[-11.85,32.5],[-11.9,41],[-11.88,20.5],[-11.92,30.5],[-11.86,28.5],
  [-11.84,27],[-11.83,31],[-11.82,23.8],[-11.81,34.3],[-11.8,21.6],[-11.79,28.6],[-11.78,25.1],[-11.77,32.4],[-11.76,23],[-11.75,29.7],[-11.8,37],[-11.78,19.5],[-11.82,27.8],[-11.76,26.4],[-11.84,33],
  [-11.74,25],[-11.73,28.8],[-11.72,22],[-11.71,31.8],[-11.7,20],[-11.69,26.5],[-11.68,23.3],[-11.67,30],[-11.66,21.3],[-11.65,27.5],[-11.7,34.5],[-11.68,18.4],[-11.72,25.8],[-11.66,24.2],[-11.74,23],
  [-11.64,23],[-11.63,26.5],[-11.62,20.2],[-11.61,29.2],[-11.6,18.4],[-11.59,24.4],[-11.58,21.4],[-11.57,27.6],[-11.56,19.6],[-11.55,25.3],[-11.6,32],[-11.58,17],[-11.62,23.8],[-11.56,22.4],[-11.64,21.2],[-11.57,35],
  [-11.54,21],[-11.53,24.2],[-11.52,18.5],[-11.51,26.7],[-11.5,16.8],[-11.49,22.3],[-11.48,19.5],[-11.47,25.2],[-11.46,17.9],[-11.45,23.1],[-11.5,29],[-11.48,15.8],[-11.52,21.8],[-11.46,20.4],[-11.54,19.3],[-11.5,23.6],
  [-11.44,19.5],[-11.43,22.4],[-11.42,17.2],[-11.41,24.8],[-11.4,15.6],[-11.39,20.7],[-11.38,18.1],[-11.37,23.4],[-11.36,16.6],[-11.35,21.5],[-11.4,27],[-11.38,14.6],[-11.42,20.2],[-11.36,19],[-11.44,17.9],[-11.4,22],
  [-11.34,18],[-11.33,20.7],[-11.32,15.8],[-11.31,22.9],[-11.3,14.4],[-11.29,19.1],[-11.28,16.7],[-11.27,21.6],[-11.26,15.3],[-11.25,19.8],[-11.3,25],[-11.28,13.5],[-11.32,18.6],[-11.26,17.5],[-11.34,16.5],[-11.29,9.3],[-11.3,20.4],
  [-11.24,16.5],[-11.23,19],[-11.22,14.5],[-11.21,21],[-11.2,13.2],[-11.19,17.5],[-11.18,15.3],[-11.17,19.8],[-11.16,14],[-11.15,18.2],[-11.2,23],[-11.18,12.4],[-11.22,17],[-11.16,16],[-11.24,15.2],[-11.2,18.8],[-11.17,13.7],
  [-11.14,15.2],[-11.13,17.5],[-11.12,13.4],[-11.11,19.3],[-11.1,12.2],[-11.09,16.1],[-11.08,14.1],[-11.07,18.2],[-11.06,12.9],[-11.05,16.7],[-11.1,21],[-11.08,11.4],[-11.12,15.7],[-11.06,14.7],[-11.14,14],[-11.1,17.3],[-11.07,12.6],
  [-11.04,14],[-11.03,16.1],[-11.02,12.3],[-11.01,17.8],[-11.0,11.2],[-10.99,14.8],[-10.98,13],[-10.97,16.8],[-10.96,11.9],[-10.95,15.4],[-11.0,19.5],[-10.98,10.5],[-11.02,14.5],[-10.96,13.5],[-11.04,12.9],[-11.0,15.9],[-10.97,11.6],[-10.97,26.5],
  [-10.94,13],[-10.93,15],[-10.92,11.4],[-10.91,16.5],[-10.9,10.4],[-10.89,13.8],[-10.88,12.1],[-10.87,15.6],[-10.86,11.1],[-10.85,14.3],[-10.9,18],[-10.88,9.8],[-10.92,13.4],[-10.86,12.5],[-10.94,12],[-10.9,14.8],[-10.87,10.8],
  [-10.84,12],[-10.83,13.8],[-10.82,10.6],[-10.81,15.2],[-10.8,9.6],[-10.79,12.7],[-10.78,11.2],[-10.77,14.4],[-10.76,10.2],[-10.75,13.2],[-10.8,16.5],[-10.78,9],[-10.82,12.4],[-10.76,11.5],[-10.84,11.1],[-10.8,13.7],[-10.77,10],
  [-10.74,11.1],[-10.73,12.8],[-10.72,9.8],[-10.71,14.1],[-10.7,8.9],[-10.69,11.8],[-10.68,10.3],[-10.67,13.3],[-10.66,9.4],[-10.65,12.2],[-10.7,15.3],[-10.68,8.3],[-10.72,11.5],[-10.66,10.7],[-10.74,10.3],[-10.7,12.7],[-10.67,9.2],
  [-10.64,10.3],[-10.63,11.8],[-10.62,9.1],[-10.61,13.1],[-10.6,8.2],[-10.59,10.9],[-10.58,9.6],[-10.57,12.4],[-10.56,8.8],[-10.55,11.3],[-10.6,14.2],[-10.58,7.7],[-10.62,10.7],[-10.56,9.9],[-10.64,9.5],[-10.6,11.8],[-10.57,8.5],[-10.58,23],
  [-10.54,9.6],[-10.53,11],[-10.52,8.4],[-10.51,12.2],[-10.5,7.7],[-10.49,10.2],[-10.48,8.9],[-10.47,11.5],[-10.46,8.2],[-10.45,10.6],[-10.5,13.2],[-10.48,7.2],[-10.52,10],[-10.46,9.2],[-10.54,8.9],[-10.5,11],[-10.47,7.9],
  [-10.44,8.9],[-10.43,10.2],[-10.42,7.8],[-10.41,11.3],[-10.4,7.1],[-10.39,9.4],[-10.38,8.3],[-10.37,10.7],[-10.36,7.6],[-10.35,9.8],[-10.4,12.3],[-10.38,6.7],[-10.42,9.2],[-10.36,8.6],[-10.44,8.3],[-10.4,10.2],[-10.37,7.4],[-10.42,4.0],
  [-10.34,8.3],[-10.33,9.5],[-10.32,7.3],[-10.31,10.5],[-10.3,6.6],[-10.29,8.8],[-10.28,7.7],[-10.27,10],[-10.26,7.1],[-10.25,9.1],[-10.3,11.4],[-10.28,6.2],[-10.32,8.6],[-10.26,8],[-10.34,7.7],[-10.3,9.5],[-10.27,6.9],
  [-10.24,7.7],[-10.23,8.9],[-10.22,6.8],[-10.21,9.8],[-10.2,6.2],[-10.19,8.2],[-10.18,7.2],[-10.17,9.2],[-10.16,6.5],[-10.15,8.5],[-10.2,10.6],[-10.18,5.8],[-10.22,8],[-10.16,7.4],[-10.24,7.2],[-10.2,8.8],[-10.17,6.4],
  [-10.14,7.2],[-10.13,8.3],[-10.12,6.3],[-10.11,9.1],[-10.1,5.8],[-10.09,7.6],[-10.08,6.7],[-10.07,8.6],[-10.06,6.1],[-10.05,7.9],[-10.1,9.9],[-10.08,5.4],[-10.12,7.5],[-10.06,6.9],[-10.14,6.7],[-10.1,8.2],[-10.07,6],
  [-10.04,6.7],[-10.03,7.7],[-10.02,5.9],[-10.01,8.5],[-10.0,5.4],[-9.99,7.1],[-9.98,6.2],[-9.97,8],[-9.96,5.7],[-9.95,7.4],[-10.0,9.2],[-9.98,5],[-10.02,7],[-9.96,6.4],[-10.04,6.2],[-10.0,7.7],[-9.97,5.6],
  [-9.94,6.3],[-9.93,7.2],[-9.92,5.5],[-9.91,8],[-9.9,5],[-9.89,6.7],[-9.88,5.9],[-9.87,7.6],[-9.86,5.4],[-9.85,6.9],[-9.9,8.7],[-9.88,4.7],[-9.92,6.6],[-9.86,6],[-9.94,5.9],[-9.9,7.2],[-9.87,5.3],
  [-9.84,5.9],[-9.83,6.8],[-9.82,5.2],[-9.81,7.5],[-9.8,4.7],[-9.79,6.3],[-9.78,5.5],[-9.77,7.1],[-9.76,5],[-9.75,6.5],[-9.8,8.1],[-9.78,4.4],[-9.82,6.2],[-9.76,5.7],[-9.84,5.5],[-9.8,6.8],[-9.77,4.9],
  [-9.74,5.6],[-9.73,6.4],[-9.72,4.9],[-9.71,7.1],[-9.7,4.5],[-9.69,5.9],[-9.68,5.2],[-9.67,6.7],[-9.66,4.8],[-9.65,6.2],[-9.7,7.6],[-9.68,4.2],[-9.72,5.8],[-9.66,5.4],[-9.74,5.2],[-9.7,6.4],[-9.67,4.6],
  [-9.64,5.4],[-9.63,6.2],[-9.62,4.8],[-9.61,6.9],[-9.6,4.3],[-9.59,5.7],[-9.58,5],[-9.57,6.5],[-9.56,4.6],[-9.55,5.9],[-9.6,7.3],[-9.58,4.1],[-9.62,5.6],[-9.56,5.2],[-9.6,6.2],
  [-9.54,5.2],[-9.53,6],[-9.52,4.6],[-9.51,6.6],[-9.5,4.2],[-9.49,5.5],[-9.48,4.8],[-9.47,6.2],[-9.46,4.4],[-9.45,5.7],[-9.5,6.9],[-9.48,3.9],[-9.52,5.4],[-9.46,5],[-9.47,7.6],
  [-9.44,5],[-9.43,5.8],[-9.42,4.4],[-9.41,6.3],[-9.4,4.1],[-9.39,5.3],[-9.38,4.6],[-9.36,5.9],[-9.35,4.3],[-9.34,5.1],[-9.36,3.9],
  [-9.09,3.3],[-8.96,4.1],[-8.95,4.0],[-9.75,8.6],[-9.59,9.0],
  [-12.645,43],[-12.62,58],[-12.6,39],[-12.58,62],[-12.56,46],[-12.545,41],[-12.52,55],[-12.5,37],[-12.48,47],[-12.46,58],
  [-12.445,38],[-12.42,51],[-12.4,34],[-12.38,44],[-12.36,55],[-12.345,36],[-12.32,48],[-12.3,32],[-12.28,41.5],[-12.26,51],
  [-12.245,33],[-12.22,45],[-12.2,30],[-12.18,39],[-12.16,48],[-12.145,31],[-12.12,42],[-12.1,28.3],[-12.08,36.2],[-12.06,45],
  [-12.046,28.8],[-12.035,39],[-12.024,26.2],[-12.013,33.6],[-12.001,41.6],[-11.989,30.4],[-11.978,25],[-11.967,35.8],[-11.956,32],
  [-11.946,26.6],[-11.935,36],[-11.924,24.2],[-11.913,31],[-11.901,38.4],[-11.889,28],[-11.878,23],[-11.867,33],[-11.856,29.5],
  [-11.846,24.3],[-11.835,32.9],[-11.824,22.1],[-11.813,28.4],[-11.801,35.1],[-11.789,25.7],[-11.778,21.1],[-11.767,30.2],[-11.756,27],
  [-11.746,22.5],[-11.735,30.5],[-11.724,20.5],[-11.713,26.3],[-11.701,32.5],[-11.689,23.8],[-11.678,19.5],[-11.667,28],[-11.656,25],
  [-11.646,20.7],[-11.635,28.1],[-11.624,18.9],[-11.613,24.2],[-11.601,29.9],[-11.589,21.9],[-11.578,17.9],[-11.567,25.8],[-11.556,23],
  [-11.546,18.9],[-11.535,25.6],[-11.524,17.2],[-11.513,22],[-11.501,27.3],[-11.489,20],[-11.478,16.4],[-11.467,23.5],[-11.456,21],
  [-11.446,17.6],[-11.435,23.8],[-11.424,16],[-11.413,20.5],[-11.401,25.4],[-11.389,18.5],[-11.378,15.2],[-11.367,21.8],[-11.356,19.5],
  [-11.346,16.2],[-11.335,22],[-11.324,14.8],[-11.313,18.9],[-11.301,23.4],[-11.289,17.1],[-11.278,14],[-11.267,20.2],[-11.256,18],
  [-11.246,14.9],[-11.235,20.1],[-11.224,13.5],[-11.213,17.3],[-11.201,21.5],[-11.189,15.7],[-11.178,12.9],[-11.167,18.5],[-11.156,16.5],
  [-11.146,13.7],[-11.135,18.5],[-11.124,12.5],[-11.113,16],[-11.101,19.8],[-11.089,14.4],[-11.078,11.9],[-11.067,17],[-11.056,15.2],
  [-11.046,12.6],[-11.035,17.1],[-11.024,11.5],[-11.013,14.7],[-11.001,18.2],[-10.989,13.3],[-10.978,10.9],[-10.967,15.7],[-10.956,14],
  [-10.946,11.7],[-10.935,15.9],[-10.924,10.7],[-10.913,13.7],[-10.901,16.9],[-10.889,12.4],[-10.878,10.1],[-10.867,14.6],[-10.856,13],
  [-10.846,10.8],[-10.835,14.6],[-10.824,9.8],[-10.813,12.6],[-10.801,15.6],[-10.789,11.4],[-10.778,9.4],[-10.767,13.4],[-10.756,12],
  [-10.746,10],[-10.735,13.5],[-10.724,9.1],[-10.713,11.7],[-10.701,14.4],[-10.689,10.5],[-10.678,8.7],[-10.667,12.4],[-10.656,11.1],
  [-10.646,9.3],[-10.635,12.6],[-10.624,8.4],[-10.613,10.8],[-10.601,13.4],[-10.589,9.8],[-10.578,8],[-10.567,11.5],[-10.556,10.3],
  [-10.546,8.6],[-10.535,11.7],[-10.524,7.9],[-10.513,10.1],[-10.501,12.5],[-10.489,9.1],[-10.478,7.5],[-10.467,10.8],[-10.456,9.6],
  [-10.446,8],[-10.435,10.9],[-10.424,7.3],[-10.413,9.3],[-10.401,11.6],[-10.389,8.5],[-10.378,6.9],[-10.367,10],[-10.356,8.9],
  [-10.346,7.5],[-10.335,10.1],[-10.324,6.8],[-10.313,8.7],[-10.301,10.8],[-10.289,7.9],[-10.278,6.5],[-10.267,9.3],[-10.256,8.3],
  [-10.246,6.9],[-10.235,9.4],[-10.224,6.3],[-10.213,8.1],[-10.201,10],[-10.189,7.3],[-10.178,6],[-10.167,8.6],[-10.156,7.7],
  [-10.146,6.5],[-10.135,8.8],[-10.124,5.9],[-10.113,7.6],[-10.101,9.4],[-10.089,6.8],[-10.078,5.6],[-10.067,8.1],[-10.056,7.2],
  [-10.046,6],[-10.035,8.2],[-10.024,5.5],[-10.013,7],[-10.001,8.7],[-9.989,6.4],[-9.978,5.2],[-9.967,7.5],[-9.956,6.7],
  [-9.946,5.7],[-9.935,7.7],[-9.924,5.2],[-9.913,6.6],[-9.901,8.2],[-9.889,6],[-9.878,4.9],[-9.867,7.1],[-9.856,6.3],
  [-9.846,5.3],[-9.835,7.2],[-9.824,4.8],[-9.813,6.2],[-9.801,7.7],[-9.789,5.6],[-9.778,4.6],[-9.767,6.6],[-9.756,5.9],
  [-9.746,5],[-9.735,6.8],[-9.724,4.6],[-9.713,5.9],[-9.701,7.3],[-9.689,5.3],[-9.678,4.4],[-9.667,6.3],[-9.656,5.6],
  [-9.646,4.9],[-9.635,6.6],[-9.624,4.4],[-9.613,5.7],[-9.601,7],[-9.589,5.1],[-9.578,4.2],[-9.567,6],[-9.556,5.4],
  [-9.546,4.7],[-9.535,6.3],[-9.524,4.3],[-9.513,5.5],[-9.501,6.8],[-9.489,4.9],[-9.478,4.1],[-9.467,5.8],[-9.456,5.2],
  [-9.446,4.5],[-9.435,6.1],[-9.424,4.1],[-9.413,5.3],[-9.401,6.5],[-9.389,4.8],[-9.378,3.9]
];

// Draws the gnuplot style frame with inward ticks on all four sides
const gnuplotFrame = {
  id: "gnuplotFrame",
  afterDatasetsDraw(chart) {
    const ctx = chart.ctx;
    const area = chart.chartArea;
    const xScale = chart.scales.x;
    const yScale = chart.scales.y;
    const left = Math.round(area.left) + 0.5;
    const right = Math.round(area.right) + 0.5;
    const top = Math.round(area.top) + 0.5;
    const bottom = Math.round(area.bottom) + 0.5;

    ctx.save();
    ctx.strokeStyle = "#000";
    ctx.lineWidth = 1;
    ctx.strokeRect(left, top, right - left, bottom - top);

    ctx.beginPath();
    xScale.ticks.forEach(function(t) {
      const px = Math.round(xScale.getPixelForValue(t.value)) + 0.5;
      if (px <= left + 1 || px >= right - 1) return;
      ctx.moveTo(px, bottom); ctx.lineTo(px, bottom - 12);
      ctx.moveTo(px, top); ctx.lineTo(px, top + 12);
    });
    yScale.ticks.forEach(function(t) {
      const py = Math.round(yScale.getPixelForValue(t.value)) + 0.5;
      if (py <= top + 1 || py >= bottom - 1) return;
      const lg = Math.log10(t.value);
      const len = Math.abs(lg - Math.round(lg)) < 1e-9 ? 12 : 6;
      ctx.moveTo(left, py); ctx.lineTo(left + len, py);
      ctx.moveTo(right, py); ctx.lineTo(right - len, py);
    });
    ctx.stroke();
    ctx.restore();
  }
};

// Key in the top right corner: text right aligned, sample marker after it
const gnuplotKey = {
  id: "gnuplotKey",
  afterDraw(chart) {
    const ctx = chart.ctx;
    const textRight = 1461;
    const markX = 1509;
    ctx.save();
    ctx.font = "20px 'Liberation Sans', Arial, sans-serif";
    ctx.letterSpacing = "0.6px";
    ctx.textAlign = "right";
    ctx.textBaseline = "middle";
    ctx.lineWidth = 1;
    seriesLabels.forEach(function(label, i) {
      const y = 49 + i * 24;
      ctx.fillStyle = "#000";
      ctx.fillText(label, textRight, y);
      ctx.strokeStyle = seriesColors[i];
      ctx.beginPath();
      if (seriesStyles[i] !== "crossRot") {
        ctx.moveTo(markX - 4.5, y); ctx.lineTo(markX + 4.5, y);
        ctx.moveTo(markX, y - 4.5); ctx.lineTo(markX, y + 4.5);
      }
      if (seriesStyles[i] !== "cross") {
        ctx.moveTo(markX - 4, y - 4); ctx.lineTo(markX + 4, y + 4);
        ctx.moveTo(markX - 4, y + 4); ctx.lineTo(markX + 4, y - 4);
      }
      ctx.stroke();
    });
    ctx.restore();
  }
};

function toPoints(pairs) {
  return pairs.map(p => ({ x: p[0], y: p[1] }));
}

const allSeries = [originalRun, updatedRun, unconvolvedRun];
const pointRadii = [4.5, 5.8, 4.5];
const drawOrder = [2, 1, 0];

const datasets = allSeries.map((pairs, i) => ({
  label: seriesLabels[i],
  data: toPoints(pairs),
  pointStyle: seriesStyles[i],
  pointRadius: pointRadii[i],
  pointBorderWidth: 1,
  borderColor: seriesColors[i],
  backgroundColor: seriesColors[i],
  showLine: false,
  order: drawOrder[i]
}));

const axisFont = { family: "'Liberation Sans', Arial, sans-serif", size: 20 };

const ctx = document.getElementById("plot").getContext("2d");
new Chart(ctx, {
  type: "scatter",
  data: { datasets: datasets },
  options: {
    responsive: false,
    animation: false,
    devicePixelRatio: 1,
    events: [],
    layout: { padding: { top: 24, right: 33, bottom: 0, left: 0 } },
    plugins: {
      legend: { display: false },
      tooltip: { enabled: false }
    },
    scales: {
      x: {
        type: "linear",
        min: xTickValues[0],
        max: xTickValues[xTickValues.length - 1],
        afterBuildTicks: function(scale) {
          scale.ticks = xTickValues.map(v => ({ value: v }));
        },
        afterFit: function(scale) {
          scale.height = 76;
          scale.paddingLeft = 0;
          scale.paddingRight = 0;
        },
        grid: { display: false, drawTicks: false },
        border: { display: false },
        ticks: { color: "#000", font: axisFont, padding: 10, maxRotation: 0 },
        title: { display: true, text: "psf_inst_mag", color: "#000", font: axisFont, padding: { top: 0, bottom: 6 } }
      },
      y: {
        type: "logarithmic",
        min: 1,
        max: 300,
        afterFit: function(scale) {
          scale.width = 134;
          scale.paddingTop = 0;
          scale.paddingBottom = 0;
        },
        grid: { display: false, drawTicks: false },
        border: { display: false },
        ticks: {
          color: "#000",
          font: axisFont,
          padding: 18,
          autoSkip: false,
          callback: function(value) {
            return yLabelValues.includes(value) ? String(value) : "";
          }
        },
        title: { display: true, text: "MOPS S/N", color: "#000", font: axisFont, padding: { top: 31, bottom: 0 } }
      }
    }
  },
  plugins: [gnuplotFrame, gnuplotKey]
});
</script>
</body>
</html>
